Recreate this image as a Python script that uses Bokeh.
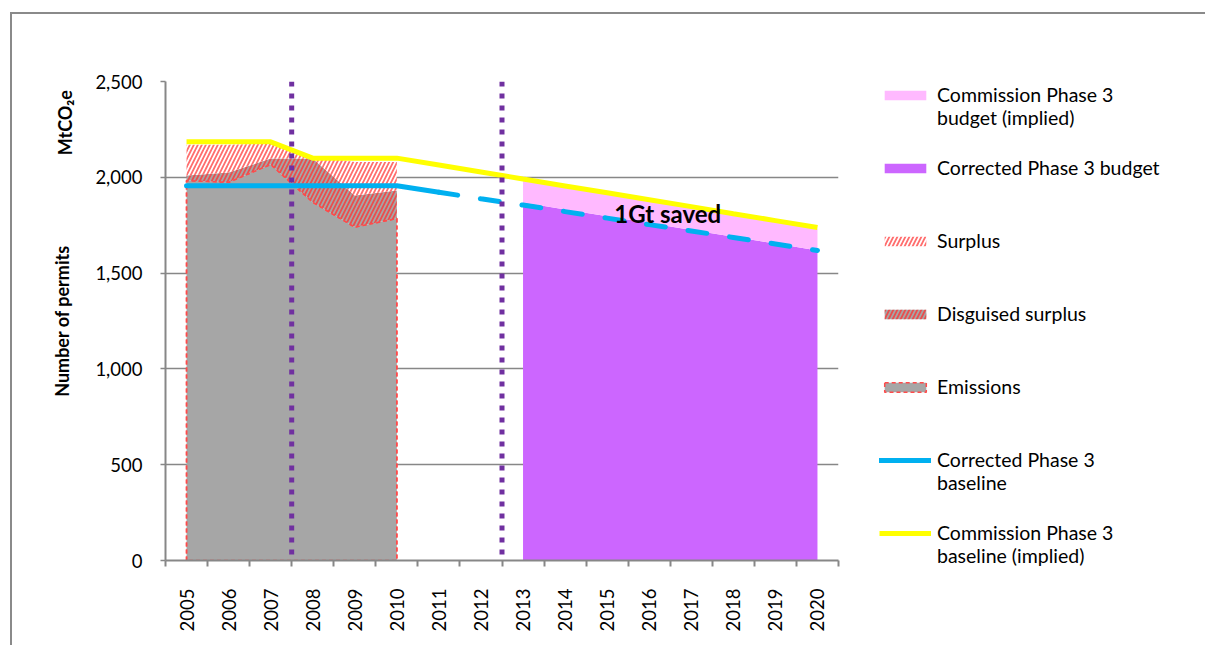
import math
from bokeh.plotting import figure
from bokeh.layouts import column
from bokeh.models import (Range1d, FixedTicker, Span, Label, Legend, LegendItem,
                          NumeralTickFormatter)
from bokeh.embed import file_html
from bokeh.resources import INLINE

# ---------------- data ----------------
years = [2005, 2006, 2007, 2008, 2009, 2010, 2011, 2012,
         2013, 2014, 2015, 2016, 2017, 2018, 2019, 2020]
phase2_years = [2005, 2006, 2007, 2008, 2009, 2010]
emissions = [1983, 1974, 2067, 1870, 1740, 1785]
disguised_surplus = [26, 51, 31, 228, 165, 146]
surplus = [161, 145, 77, 12, 175, 149]

phase3_years = [2013, 2014, 2015, 2016, 2017, 2018, 2019, 2020]
corrected_budget = [1868, 1832, 1797, 1761, 1725, 1690, 1654, 1618]
commission_budget = [1983, 1947, 1911, 1875, 1839, 1803, 1768, 1732]

commission_baseline = [2185, 2185, 2185, 2100, 2100, 2100, 2064, 2028,
                       1991, 1955, 1919, 1883, 1847, 1810, 1774, 1738]
corrected_baseline = [1956, 1956, 1956, 1956, 1956, 1956, 1922, 1888,
                      1855, 1821, 1787, 1753, 1720, 1686, 1652, 1618]
solid_until = 2011  # corrected baseline drawn solid up to this year, dashed after

phase_breaks = [2007.5, 2012.5]
y_ticks = [0, 500, 1000, 1500, 2000, 2500]

legend_labels = [
    ("Commission Phase 3", "budget (implied)"),
    ("Corrected Phase 3 budget", ""),
    ("Surplus", ""),
    ("Disguised surplus", ""),
    ("Emissions", ""),
    ("Corrected Phase 3", "baseline"),
    ("Commission Phase 3", "baseline (implied)"),
]

# ---------------- styling ----------------
FONT = "Lato"
GRAY_AX = "#878787"
GRAY_FILL = "#A6A6A6"
RED = "#FF4B4B"
PINK = "#FFB9FF"
PURPLE = "#CC66FF"
YELLOW = "#FFFF00"
BLUE = "#00B0F0"
DOT = "#7030A0"

p = figure(frame_width=673, frame_height=479,
           min_border_left=153, min_border_right=365,
           min_border_top=67, min_border_bottom=85,
           x_range=Range1d(2004.5, 2020.5), y_range=Range1d(0, 2500),
           output_backend="svg", toolbar_location=None)
p.outline_line_color = None
p.background_fill_color = "white"
p.border_fill_color = "white"

# stacked phase 2 areas
ed_top = [e + d for e, d in zip(emissions, disguised_surplus)]
s_top = [t + s for t, s in zip(ed_top, surplus)]

em_xs = [phase2_years[0]] + phase2_years + [phase2_years[-1]]
em_ys = [0] + emissions + [0]
r_em = p.patch(em_xs, em_ys, fill_color=GRAY_FILL, line_color=RED,
               line_width=1.5, line_dash="4 3")
r_dis = p.varea(x=phase2_years, y1=emissions, y2=ed_top, fill_color=GRAY_FILL,
                hatch_pattern="/", hatch_color="#FF3030", hatch_weight=1.8,
                hatch_scale=8, hatch_alpha=0.75)
r_sur = p.varea(x=phase2_years, y1=ed_top, y2=s_top, fill_color="white",
                hatch_pattern="/", hatch_color="#FF3030", hatch_weight=1.8,
                hatch_scale=8, hatch_alpha=0.7)
p.line(em_xs, em_ys, line_color=RED, line_width=1.5, line_dash="4 3")

# phase 3 budgets
r_cb = p.varea(x=phase3_years, y1=0, y2=corrected_budget, fill_color=PURPLE)
r_pb = p.varea(x=phase3_years, y1=corrected_budget, y2=commission_budget,
               fill_color=PINK)

# baselines
r_yel = p.line(years, commission_baseline, line_color=YELLOW, line_width=5)
n_solid = years.index(solid_until) + 1
r_blue = p.line(years[:n_solid], corrected_baseline[:n_solid], line_color=BLUE,
                line_width=5, line_cap="round")
p.line(years[n_solid - 1:], corrected_baseline[n_solid - 1:], line_color=BLUE,
       line_width=5, line_dash="19 23", line_cap="round")

# phase boundaries
for xb in phase_breaks:
    p.add_layout(Span(location=xb, dimension="height", line_color=DOT,
                      line_width=5, line_dash="5 7"))

p.add_layout(Label(x=2016.44, y=1811, text="1Gt saved", text_font=FONT,
                   text_font_style="bold", text_font_size="24px",
                   text_align="center", text_baseline="middle",
                   text_color="black"))

# ---------------- axes ----------------
p.grid.grid_line_color = None
p.ygrid.grid_line_color = GRAY_AX
p.ygrid.grid_line_width = 1.5
p.ygrid.ticker = FixedTicker(ticks=y_ticks)

ya = p.yaxis[0]
ya.ticker = FixedTicker(ticks=y_ticks)
ya.formatter = NumeralTickFormatter(format="0,0")
ya.axis_line_color = GRAY_AX
ya.axis_line_width = 2
ya.major_tick_line_color = GRAY_AX
ya.major_tick_line_width = 1.5
ya.major_tick_out = 5
ya.major_tick_in = 0
ya.minor_tick_line_color = None
ya.major_label_standoff = 18
ya.major_label_text_font = FONT
ya.major_label_text_font_size = "18.5px"
ya.major_label_text_color = "black"
ya.axis_label = "Number of permits"
ya.axis_label_text_font = FONT
ya.axis_label_text_font_style = "bold"
ya.axis_label_text_font_size = "18px"
ya.axis_label_text_color = "black"
ya.axis_label_standoff = 19

xa = p.xaxis[0]
xa.ticker = FixedTicker(ticks=years,
                        minor_ticks=[y - 0.5 for y in years] + [years[-1] + 0.5])
xa.axis_line_color = GRAY_AX
xa.axis_line_width = 2
xa.major_tick_out = 0
xa.major_tick_in = 0
xa.minor_tick_out = 6
xa.minor_tick_in = 0
xa.minor_tick_line_color = GRAY_AX
xa.minor_tick_line_width = 2
xa.major_label_orientation = math.pi / 2
xa.major_label_standoff = 22
xa.major_label_text_font = FONT
xa.major_label_text_font_size = "18.5px"
xa.major_label_text_color = "black"

p.add_layout(Label(x=38, x_units="screen", y=2285, text="MtCO₂e",
                   angle=math.pi / 2, text_font=FONT,
                   text_font_style="bold", text_font_size="18px",
                   text_align="center", text_baseline="middle",
                   text_color="black"), "left")

# ---------------- legend ----------------
# every entry is three text lines (blank, first, second) so that the swatch
# sits beside the first line of the label
legend_renderers = [r_pb, r_cb, r_sur, r_dis, r_em, r_blue, r_yel]
items = [LegendItem(label=" \n" + l1 + "\n" + (l2 if l2 else " "), renderers=[r])
         for (l1, l2), r in zip(legend_labels, legend_renderers)]
lg = Legend(items=items, location=(41, -7),
            glyph_width=52, glyph_height=12, label_height=24,
            label_standoff=6, padding=0, margin=0, spacing=4,
            border_line_color=None, background_fill_alpha=0,
            label_text_font=FONT, label_text_font_size="19.5px",
            label_text_color="black")
p.add_layout(lg, "right")

# outer frame of the chart: only its top and left edges lie inside the window
page = column(p, margin=(12, 0, 0, 10),
              styles={"border-left": "2px solid #8a8a8a",
                      "border-top": "2px solid #8a8a8a"})

open("out.html", "w").write(file_html(page, INLINE))
